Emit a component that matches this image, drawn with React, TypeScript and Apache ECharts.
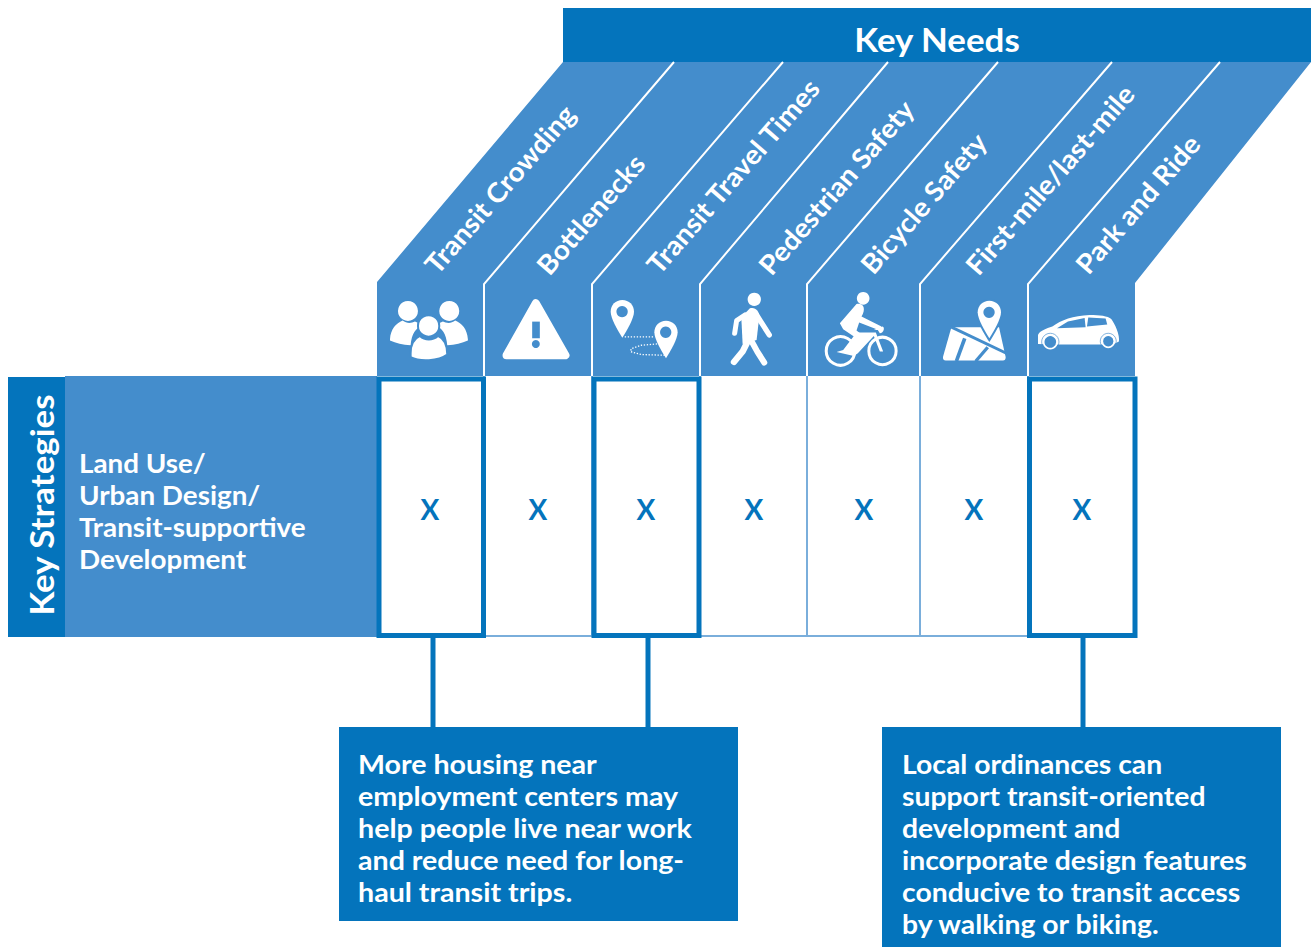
import React, { useEffect, useRef } from "react";
import * as echarts from "echarts";

const topTitle = "Key Needs";
const sideTitle = "Key Strategies";
const strategyLines = ["Land Use/", "Urban Design/", "Transit-supportive", "Development"];
const needs = ["Transit Crowding", "Bottlenecks", "Transit Travel Times", "Pedestrian Safety", "Bicycle Safety", "First-mile/last-mile", "Park and Ride"];
const marks = ["X", "X", "X", "X", "X", "X", "X"];
const highlighted = [1, 0, 1, 0, 0, 0, 1];
const calloutA = ["More housing near", "employment centers may", "help people live near work", "and reduce need for long-", "haul transit trips."];
const calloutB = ["Local ordinances can", "support transit-oriented", "development and", "incorporate design features", "conducive to transit access", "by walking or biking."];

// layout, in page pixels
const W = 1314, H = 947;
const DARK = "#0474bc", LIGHT = "#448dcc", LINE = "#7aaedb";
const FONT = "Lato";
const columnEdges = [377, 484, 592, 700, 807, 920, 1028, 1135];
const highlightBox = [[379, 483.5], [0, 0], [594, 699], [0, 0], [0, 0], [0, 0], [1029.5, 1135]];
const dividerTops = [674, 783, 888, 998, 1112, 1220];
const markCenters = [430, 538, 646, 754, 864, 974, 1082];
const labelAnchors = [[440, 278], [552, 279], [662, 278], [774, 279], [876, 278], [981, 279], [1091, 278]];
const rowTop = 376, rowBottom = 637;
const connectors = [433, 648, 1083];

const shapes: Record<string, string> = {
  personSide: "M60 208 C62 178 78 160 98 152 C110 162 125 160 135 155 C142 158 148 160 155 168 C138 175 125 190 122 226 C98 226 78 220 60 212 Z",
  personSideR: "M294 208 C292 178 276 160 256 152 C244 162 229 160 219 155 C212 158 206 160 199 168 C216 175 229 190 232 226 C256 226 276 220 294 212 Z",
  personMid: "M122 250 C122 222 135 205 150 198 C165 212 188 212 204 198 C220 205 232 222 232 254 C205 274 150 276 122 262 Z",
  pin: "M0 -35 C20 -35 35 -20 35 0 C35 20 14 56 0 78 C-14 56 -35 20 -35 0 C-35 -20 -20 -35 0 -35 Z",
  torso: "M150 115 C165 110 178 122 178 140 L170 210 L128 222 L124 142 Z",
  rider: "M470 102 C490 98 500 115 485 140 L530 162 L545 170 L540 182 L478 158 L470 182 L500 205 L470 252 L455 245 L470 205 L430 178 L420 160 Z",
  frame: "M430 240 L470 188 L528 188 L550 245 L540 245 L522 198 L474 250 L462 258 L410 246 Z",
  bar: "M522 180 L548 170 C556 172 552 190 540 190 L534 180 Z",
  carBody: "M1015 222 L1015 195 C1020 183 1040 176 1058 170 C1085 150 1120 137 1170 135 C1200 135 1225 138 1235 147 C1245 160 1262 195 1258 215 L1240 224 L1060 224 Z",
  mapBase: "M755 172 L898 172 L918 262 C918 268 915 272 910 272 L738 272 C732 272 728 268 730 260 Z",
};
Object.keys(shapes).forEach((k) => {
  echarts.graphic.registerShape("icon_" + k, echarts.graphic.extendPath(shapes[k], {}));
});

const white = { fill: "#fff" };
const pin = (x: number, y: number, hole: string, halo = false) => [
  ...(halo ? [{ type: "icon_pin", x, y, style: { fill: LIGHT, stroke: LIGHT, lineWidth: 12 } }] : []),
  { type: "icon_pin", x, y, style: white },
  { type: "circle", shape: { cx: x, cy: y, r: 17 }, style: { fill: hole } },
];
const limb = (points: number[][], w: number) => ({
  type: "polyline",
  shape: { points },
  style: { stroke: "#fff", fill: "none", lineWidth: w, lineCap: "round", lineJoin: "round" },
});
const bladeLine = (points: number[][], w: number) => ({
  type: "polyline",
  shape: { points },
  style: { stroke: LIGHT, fill: "none", lineWidth: w },
});
const ringEl = (cx: number, cy: number, r: number, w: number, stroke: string, fill = "none") => ({
  type: "circle",
  shape: { cx, cy, r },
  style: { stroke, fill, lineWidth: w },
});
const dot = (cx: number, cy: number, r: number, fill = "#fff") => ({ type: "circle", shape: { cx, cy, r }, style: { fill } });

const iconsLeft = [
  dot(114, 123, 30), dot(238, 123, 30),
  { type: "icon_personSide", style: white },
  { type: "icon_personSideR", style: white },
  { type: "circle", shape: { cx: 176, cy: 168, r: 32 }, style: { fill: "#fff", stroke: LIGHT, lineWidth: 6 } },
  { type: "icon_personMid", style: { fill: "#fff", stroke: LIGHT, lineWidth: 6 } },
  { type: "polygon", shape: { points: [[498, 100], [587, 256], [410, 256]] }, style: { fill: "#fff", stroke: "#fff", lineWidth: 24, lineJoin: "round" } },
  { type: "rect", shape: { x: 487, y: 155, width: 23, height: 50 }, style: { fill: LIGHT } },
  dot(498, 222, 12, LIGHT),
  ...pin(757, 125, LIGHT),
  ...pin(888, 187, LIGHT),
  { type: "polyline", shape: { points: [[765, 201], [855, 201]] }, style: { stroke: "#fff", fill: "none", lineWidth: 4, lineDash: [4, 5] } },
  { type: "polyline", shape: { points: [[862, 222], [815, 226], [785, 236], [782, 245], [815, 254], [885, 256]] }, style: { stroke: "#fff", fill: "none", lineWidth: 4, lineDash: [4, 5] } },
];
const iconsRight = [
  dot(163, 88, 20),
  { type: "icon_torso", style: white },
  limb([[135, 135], [110, 152], [104, 190]], 15),
  limb([[170, 135], [208, 195]], 16),
  limb([[148, 205], [128, 245], [102, 276]], 19),
  limb([[150, 205], [172, 245], [193, 278]], 18),
  dot(490, 85, 19),
  { type: "icon_rider", style: white },
  { type: "icon_frame", style: white },
  { type: "icon_bar", style: white },
  ringEl(422, 243, 43, 9, "#fff"),
  ringEl(548, 243, 41, 9, "#fff"),
  { type: "icon_mapBase", style: white },
  bladeLine([[752, 170], [920, 250]], 9),
  bladeLine([[795, 205], [770, 274]], 11),
  bladeLine([[864, 232], [828, 274]], 10),
  ...pin(868, 127, LIGHT, true),
  { type: "icon_carBody", style: white },
  { type: "polygon", shape: { points: [[1072, 175], [1105, 155], [1155, 144], [1158, 172]] }, style: { fill: LIGHT } },
  { type: "polygon", shape: { points: [[1166, 143], [1218, 146], [1223, 164], [1162, 170]] }, style: { fill: LIGHT } },
  ringEl(1052, 216, 20, 5, "#fff", LIGHT),
  ringEl(1052, 216, 26, 2, LIGHT),
  ringEl(1226, 214, 18, 5, "#fff", LIGHT),
  ringEl(1226, 214, 24, 2, LIGHT),
];

const TEXT_STRETCH = 1.09;
const textEl = (text: string, x: number, y: number, size: number, extra: any = {}, style: any = {}) => ({
  type: "text",
  x,
  y,
  scaleX: TEXT_STRETCH,
  ...extra,
  style: { text, fill: "#fff", font: `700 ${size}px ${FONT}`, ...style },
});
const rectEl = (x: number, y: number, width: number, height: number, fill: string) => ({
  type: "rect",
  shape: { x, y, width, height },
  style: { fill },
});
const block = (lines: string[], x: number, y: number, size: number, extra: any = {}) =>
  textEl(lines.join("\n"), x, y, size, extra, { lineHeight: 32, textVerticalAlign: "top" });

const LABEL_ANGLE = (49 * Math.PI) / 180;

const graphicElements = [
  rectEl(563, 8, 748, 54, DARK),
  textEl(topTitle, 937, 40, 32, {}, { textAlign: "center", textVerticalAlign: "middle" }),
  { type: "polygon", shape: { points: [[563, 62], [1311, 62], [1135, 283], [1135, 376], [377, 376], [377, 282]] }, style: { fill: LIGHT } },
  ...dividerTops.map((top, i) => ({
    type: "polyline",
    shape: { points: [[top, 62], [columnEdges[i + 1], 284], [columnEdges[i + 1], 376]] },
    style: { stroke: "#fff", fill: "none", lineWidth: 2 },
  })),
  ...needs.map((n, i) =>
    textEl(n, labelAnchors[i][0], labelAnchors[i][1], 27, { rotation: LABEL_ANGLE, scaleX: 1.045 }, { textVerticalAlign: "bottom" })
  ),
  { type: "group", x: 370, y: 270, scaleX: 1 / 3, scaleY: 1 / 3, children: iconsLeft },
  { type: "group", x: 700, y: 270, scaleX: 1 / 3, scaleY: 1 / 3, children: iconsRight },
  rectEl(8, 377, 58, 260, DARK),
  textEl(sideTitle, 42, 505, 32, { rotation: Math.PI / 2 }, { textAlign: "center", textVerticalAlign: "middle" }),
  rectEl(65, 376, 312, 261, LIGHT),
  block(strategyLines, 79, 447, 26, { scaleX: 1.07 }),
  ...connectors.map((x) => rectEl(x - 2.5, 637, 5, 91, DARK)),
  rectEl(339, 727, 399, 194, DARK),
  block(calloutA, 358, 748, 26, { scaleX: 1.1 }),
  rectEl(882, 727, 399, 220, DARK),
  block(calloutB, 902, 748, 26),
];

const columnData = needs.map((n, i) => ({
  name: n,
  value: [columnEdges[i], columnEdges[i + 1], markCenters[i], highlighted[i], highlightBox[i][0], highlightBox[i][1]],
  mark: marks[i],
}));

export default function App() {
  const ref = useRef<HTMLDivElement>(null);
  useEffect(() => {
    const chart = echarts.init(ref.current!, undefined, { renderer: "svg" });
    chart.setOption({
      animation: false,
      grid: { left: 0, top: 0, width: W, height: H },
      xAxis: { type: "value", min: 0, max: W, show: false },
      yAxis: { type: "value", min: 0, max: H, inverse: true, show: false },
      graphic: { elements: graphicElements },
      series: [
        {
          type: "custom",
          coordinateSystem: "cartesian2d",
          data: columnData,
          encode: { x: [0, 1, 2], y: [] },
          renderItem: (params: any, api: any) => {
            const item = columnData[params.dataIndex];
            const [l, r, c, hi, bl, br] = item.value;
            const [x0, y0] = api.coord([l, rowTop]);
            const [x1, y1] = api.coord([r, rowBottom]);
            const [cx, cy] = api.coord([c, (rowTop + rowBottom) / 2 + 2]);
            const children: any[] = [];
            if (params.dataIndex > 0) {
              children.push({ type: "line", shape: { x1: x0, y1: y0, x2: x0, y2: y1 }, style: { stroke: LINE, lineWidth: 2 } });
            }
            children.push({ type: "line", shape: { x1: x0, y1: y1 - 1, x2: x1 + 1, y2: y1 - 1 }, style: { stroke: LINE, lineWidth: 2 } });
            if (hi) {
              children.push({
                type: "rect",
                z2: 5,
                shape: { x: bl, y: 379, width: br - bl, height: 256.5 },
                style: { fill: "#fff", stroke: DARK, lineWidth: 5 },
              });
            }
            children.push({
              type: "text",
              z2: 10,
              style: { text: item.mark, x: cx, y: cy, fill: DARK, font: `700 28px ${FONT}`, textAlign: "center", textVerticalAlign: "middle" },
            });
            return { type: "group", children };
          },
        },
      ],
    });
    return () => chart.dispose();
  }, []);
  return <div ref={ref} style={{ position: "absolute", left: 0, top: 0, width: W, height: H, background: "#fff" }} />;
}
